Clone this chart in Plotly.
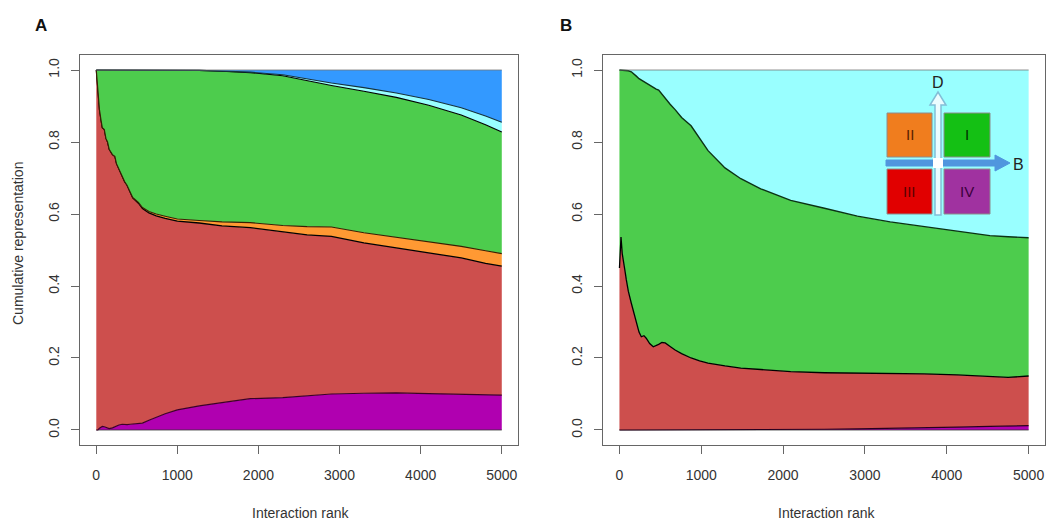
import plotly.graph_objects as go

W, H = 1051, 520

# ---------------- Panel A data (cumulative boundaries) ----------------
rank_a = [1, 20, 40, 60, 75, 100, 120, 140, 160, 200, 230, 250, 280, 320, 350, 380, 420, 450,
          520, 570, 650, 740, 850, 1000, 1270, 1550, 1900, 2300, 2600, 2900, 3300, 3700, 4100,
          4500, 4800, 5000]
a_iv_top = [0.0, 0.0, 0.005, 0.008, 0.01, 0.009, 0.008, 0.006, 0.004, 0.006, 0.009, 0.012,
            0.014, 0.016, 0.015, 0.015, 0.016, 0.017, 0.018, 0.019, 0.027, 0.036, 0.045, 0.056,
            0.067, 0.076, 0.087, 0.09, 0.094, 0.1, 0.102, 0.103, 0.101, 0.1, 0.098, 0.097]
a_iii_top = [1.0, 0.93, 0.89, 0.86, 0.84, 0.835, 0.81, 0.80, 0.78, 0.765, 0.76, 0.74, 0.725,
             0.70, 0.69, 0.68, 0.66, 0.645, 0.63, 0.615, 0.603, 0.595, 0.588, 0.58, 0.575,
             0.567, 0.562, 0.55, 0.542, 0.538, 0.52, 0.506, 0.492, 0.478, 0.463, 0.455]
a_ii_top = [1.0, 0.93, 0.89, 0.86, 0.84, 0.835, 0.81, 0.80, 0.78, 0.765, 0.76, 0.74, 0.725,
            0.70, 0.69, 0.68, 0.66, 0.646, 0.632, 0.618, 0.607, 0.6, 0.594, 0.586, 0.582,
            0.578, 0.576, 0.568, 0.565, 0.564, 0.548, 0.535, 0.523, 0.51, 0.498, 0.49]
a_i_top = [1.0, 1.0, 1.0, 1.0, 1.0, 1.0, 1.0, 1.0, 1.0, 1.0, 1.0, 1.0, 1.0, 1.0, 1.0, 1.0, 1.0,
           1.0, 1.0, 1.0, 1.0, 1.0, 1.0, 1.0, 0.999, 0.997, 0.993, 0.984, 0.97, 0.957, 0.941,
           0.924, 0.902, 0.875, 0.848, 0.828]
a_cyan_top = [1.0, 1.0, 1.0, 1.0, 1.0, 1.0, 1.0, 1.0, 1.0, 1.0, 1.0, 1.0, 1.0, 1.0, 1.0, 1.0,
              1.0, 1.0, 1.0, 1.0, 1.0, 1.0, 1.0, 1.0, 0.999, 0.997, 0.994, 0.987, 0.975, 0.964,
              0.951, 0.936, 0.918, 0.895, 0.872, 0.855]
a_blue_top = [1.0] * len(rank_a)

# ---------------- Panel B data ----------------
rank_b = [1, 20, 35, 50, 70, 85, 110, 146, 175, 207, 240, 268, 300, 328, 370, 414, 450, 480,
          520, 560, 620, 681, 760, 876, 980, 1083, 1290, 1484, 1727, 2093, 2506, 2908, 3309,
          3723, 4124, 4526, 4750, 5000]
b_iv_top = [0.0] * 28 + [0.001, 0.001, 0.002, 0.003, 0.004, 0.006, 0.008, 0.01, 0.011, 0.012]
b_iii_top = [0.45, 0.536, 0.49, 0.472, 0.44, 0.417, 0.385, 0.352, 0.325, 0.297, 0.272, 0.259,
             0.262, 0.255, 0.24, 0.231, 0.236, 0.238, 0.243, 0.242, 0.232, 0.222, 0.212, 0.2,
             0.192, 0.186, 0.178, 0.172, 0.168, 0.162, 0.159, 0.158, 0.158, 0.156, 0.153,
             0.148, 0.146, 0.15]
b_i_top = [1.0, 1.0, 1.0, 1.0, 1.0, 1.0, 0.998, 0.995, 0.99, 0.983, 0.976, 0.972, 0.968, 0.964,
           0.957, 0.95, 0.947, 0.944, 0.933, 0.92, 0.905, 0.89, 0.868, 0.845, 0.81, 0.776,
           0.728, 0.698, 0.67, 0.638, 0.616, 0.594, 0.578, 0.565, 0.551, 0.54, 0.537, 0.534]
b_cyan_top = [1.0] * len(rank_b)

x_ticks = [0, 1000, 2000, 3000, 4000, 5000]
y_ticks = [0.0, 0.2, 0.4, 0.6, 0.8, 1.0]
y_tick_text = ["0.0", "0.2", "0.4", "0.6", "0.8", "1.0"]

C_PURPLE = "rgb(176,0,176)"
C_RED = "rgb(205,79,77)"
C_ORANGE = "rgb(255,153,51)"
C_GREEN = "rgb(77,204,77)"
C_CYAN = "rgb(153,255,255)"
C_BLUE = "rgb(51,153,255)"

FONT = "Liberation Sans, Arial, sans-serif"


def px(x):
    return x / W


def py(y):
    return 1 - y / H


fig = go.Figure()


def add_stack(xs, layers, xa, ya):
    fig.add_trace(go.Scatter(x=xs, y=[0.0] * len(xs), mode="lines",
                             line=dict(color="#333", width=0.8), xaxis=xa, yaxis=ya,
                             showlegend=False, hoverinfo="skip"))
    for ys, col, lc, lw in layers:
        fig.add_trace(go.Scatter(x=xs, y=ys, mode="lines", fill="tonexty", fillcolor=col,
                                 line=dict(color=lc, width=lw), xaxis=xa, yaxis=ya,
                                 showlegend=False))


add_stack(rank_a, [(a_iv_top, C_PURPLE, "rgb(60,0,40)", 1.2),
                   (a_iii_top, C_RED, "black", 1.3),
                   (a_ii_top, C_ORANGE, "rgb(60,30,0)", 1.1),
                   (a_i_top, C_GREEN, "black", 1.2),
                   (a_cyan_top, C_CYAN, "rgb(20,50,60)", 1.1),
                   (a_blue_top, C_BLUE, "#777", 0.8)], "x", "y")
add_stack(rank_b, [(b_iv_top, C_PURPLE, "rgb(40,0,30)", 1.2),
                   (b_iii_top, C_RED, "black", 1.3),
                   (b_i_top, C_GREEN, "rgb(10,50,20)", 1.4),
                   (b_cyan_top, C_CYAN, "#777", 0.8)], "x2", "y2")

axis_font = dict(family=FONT, size=14, color="#333")
common_x = dict(range=[-200, 5200], tickvals=x_ticks, ticks="outside", ticklen=8,
                tickcolor="#666", showline=True, mirror=True, linecolor="#666", linewidth=1,
                showgrid=False, zeroline=False, tickfont=axis_font, ticklabelstandoff=9)
common_y = dict(range=[-0.0417, 1.0417], tickvals=y_ticks, ticktext=y_tick_text,
                ticks="outside", ticklen=8, tickcolor="#666", showline=True, mirror=True,
                linecolor="#666", linewidth=1, showgrid=False, zeroline=False,
                tickfont=axis_font, tickangle=-90, ticklabelstandoff=6)

ydom = [py(445), py(55)]
fig.update_layout(
    width=W, height=H, margin=dict(l=0, r=0, t=0, b=0),
    paper_bgcolor="white", plot_bgcolor="white",
    xaxis=dict(domain=[px(80), px(518)], anchor="y", **common_x),
    yaxis=dict(domain=ydom, anchor="x", **common_y),
    xaxis2=dict(domain=[px(603), px(1045)], anchor="y2", **common_x),
    yaxis2=dict(domain=ydom, anchor="x2", **common_y),
)


def ann(text, x, y, size, color, angle=0):
    return dict(text=text, x=px(x), y=py(y), xref="paper", yref="paper", showarrow=False,
                xanchor="center", yanchor="middle", textangle=angle,
                font=dict(family=FONT, size=size, color=color))


annotations = [
    ann("<b>A</b>", 41, 25, 17, "#111"),
    ann("<b>B</b>", 566, 25, 17, "#111"),
    ann("Interaction rank", 300, 513, 14, "#333"),
    ann("Interaction rank", 826, 513, 14, "#333"),
    ann("Cumulative representation", 18, 244, 14, "#333", -90),
]

# inset quadrant key
shapes = []
hx0, hx1, hy = 886, 1010, 163
shapes.append(dict(type="path", xref="paper", yref="paper",
                   path=f"M {px(hx0)},{py(hy-3)} L {px(995)},{py(hy-3)} L {px(995)},{py(hy-8)} "
                        f"L {px(hx1)},{py(hy)} L {px(995)},{py(hy+8)} L {px(995)},{py(hy+3)} "
                        f"L {px(hx0)},{py(hy+3)} Z",
                   fillcolor="rgb(80,150,222)", line=dict(color="rgb(80,150,222)", width=1)))
vx, vy0, vy1 = 938, 215, 92
shapes.append(dict(type="path", xref="paper", yref="paper",
                   path=f"M {px(vx-3)},{py(vy0)} L {px(vx-3)},{py(105)} L {px(vx-8)},{py(105)} "
                        f"L {px(vx)},{py(vy1)} L {px(vx+8)},{py(105)} L {px(vx+3)},{py(105)} "
                        f"L {px(vx+3)},{py(vy0)} Z",
                   fillcolor="rgb(235,252,255)", line=dict(color="rgb(130,190,215)", width=1.5)))
shapes.append(dict(type="rect", xref="paper", yref="paper", x0=px(vx - 5), x1=px(vx + 5),
                   y0=py(hy + 5), y1=py(hy - 5), fillcolor="white", line=dict(width=0)))
boxes = [
    (887, 932, 113, 157, "rgb(240,125,30)", "II", "rgb(90,35,0)"),
    (944, 990, 113, 157, "rgb(20,192,20)", "I", "rgb(0,50,0)"),
    (887, 932, 169, 214, "rgb(225,0,0)", "III", "rgb(90,0,0)"),
    (944, 990, 169, 214, "rgb(160,50,160)", "IV", "rgb(60,0,60)"),
]
for x0, x1, y0, y1, col, lab, tcol in boxes:
    shapes.append(dict(type="rect", xref="paper", yref="paper", x0=px(x0), x1=px(x1),
                       y0=py(y1), y1=py(y0), fillcolor=col,
                       line=dict(color="rgb(140,140,140)", width=1)))
    annotations.append(ann(lab, (x0 + x1) / 2, (y0 + y1) / 2, 15, tcol))
annotations.append(ann("B", 1018, 164, 16, "#222"))
annotations.append(ann("D", 938, 82, 16, "#222"))

fig.update_layout(shapes=shapes, annotations=annotations)
fig.write_html("out.html")
